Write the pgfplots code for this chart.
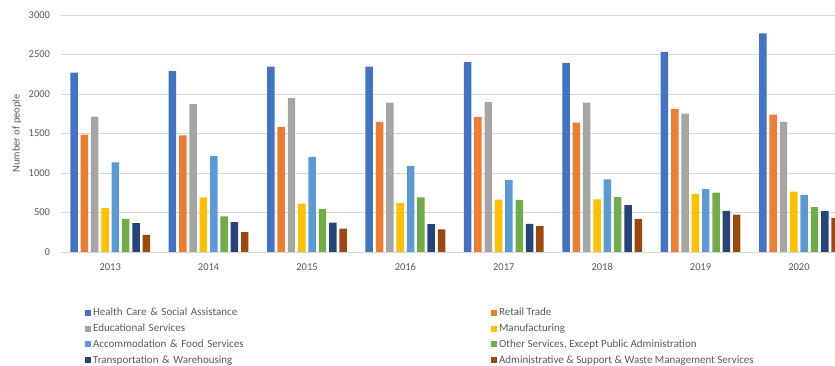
\documentclass[border=0pt]{standalone}
\usepackage{pgfplots}
\pgfplotsset{compat=1.18}
\usepackage{fontspec}
\setmainfont{Carlito}
\definecolor{c1}{HTML}{4472C4}
\definecolor{c2}{HTML}{ED7D31}
\definecolor{c3}{HTML}{A5A5A5}
\definecolor{c4}{HTML}{FFC000}
\definecolor{c5}{HTML}{5B9BD5}
\definecolor{c6}{HTML}{70AD47}
\definecolor{c7}{HTML}{264478}
\definecolor{c8}{HTML}{9E480E}
\definecolor{txt}{HTML}{595959}
\definecolor{gridc}{HTML}{D9D9D9}
\begin{document}
\begin{tikzpicture}
\useasboundingbox (-61pt,-114pt) rectangle (774pt,252pt);
\begin{axis}[
  scale only axis, width=774pt, height=237pt,
  at={(0,0)}, anchor=south west,
  ybar, bar width=0.076,
  xmin=-0.5, xmax=7.366, ymin=0, ymax=3000,
  xtick=data, xticklabels={2013,2014,2015,2016,2017,2018,2019,2020},
  ytick={0,500,...,3000},
  ymajorgrids=true, xmajorgrids=false,
  major grid style={draw=gridc, line width=0.6pt},
  axis x line*=bottom, axis y line*=left,
  x axis line style={draw=gridc, line width=0.6pt, -},
  y axis line style={draw=none},
  major tick length=0pt,
  tick label style={font=\fontsize{10.5}{12}\selectfont, text=txt},
  x tick label style={yshift=-8pt},
  y tick label style={xshift=-7.5pt},
  /pgf/number format/assume math mode=true,
  /pgf/number format/1000 sep={},
  ylabel={Number of people},
  ylabel style={at={(axis description cs:-0.057,0.5)}, anchor=center, font=\fontsize{10.5}{12}\selectfont, text=txt},
  legend columns=2,
  legend image code/.code={\fill[#1,draw=none] (0pt,-3pt) rectangle (6pt,3pt);},
  legend style={at={(axis description cs:0.027,-0.22)}, anchor=north west, draw=none, fill=none,
    font=\fontsize{11}{13}\selectfont, text=txt, row sep=2.6pt,
    cells={anchor=west},
    /tikz/column 2/.style={text width=396pt, align=left}},
]
\addplot[fill=c1, draw=none, bar shift=-0.3675] coordinates {(0,2271) (1,2288) (2,2347) (3,2347) (4,2402) (5,2393) (6,2532) (7,2768)};
\addplot[fill=c2, draw=none, bar shift=-0.2625] coordinates {(0,1487) (1,1475) (2,1584) (3,1647) (4,1711) (5,1639) (6,1812) (7,1740)};
\addplot[fill=c3, draw=none, bar shift=-0.1575] coordinates {(0,1715) (1,1871) (2,1947) (3,1892) (4,1896) (5,1892) (6,1753) (7,1647)};
\addplot[fill=c4, draw=none, bar shift=-0.0525] coordinates {(0,560) (1,690) (2,612) (3,620) (4,662) (5,665) (6,735) (7,765)};
\addplot[fill=c5, draw=none, bar shift=0.0525] coordinates {(0,1135) (1,1215) (2,1205) (3,1088) (4,912) (5,920) (6,795) (7,722)};
\addplot[fill=c6, draw=none, bar shift=0.1575] coordinates {(0,420) (1,450) (2,545) (3,690) (4,660) (5,695) (6,750) (7,568)};
\addplot[fill=c7, draw=none, bar shift=0.2625] coordinates {(0,365) (1,378) (2,373) (3,352) (4,356) (5,592) (6,520) (7,517)};
\addplot[fill=c8, draw=none, bar shift=0.3675] coordinates {(0,218) (1,252) (2,295) (3,287) (4,328) (5,420) (6,474) (7,433)};
\legend{Health Care \& Social Assistance, Retail Trade, Educational Services, Manufacturing, Accommodation \& Food Services, {Other Services, Except Public Administration}, Transportation \& Warehousing, Administrative \& Support \& Waste Management Services}
\end{axis}
\end{tikzpicture}
\end{document}
